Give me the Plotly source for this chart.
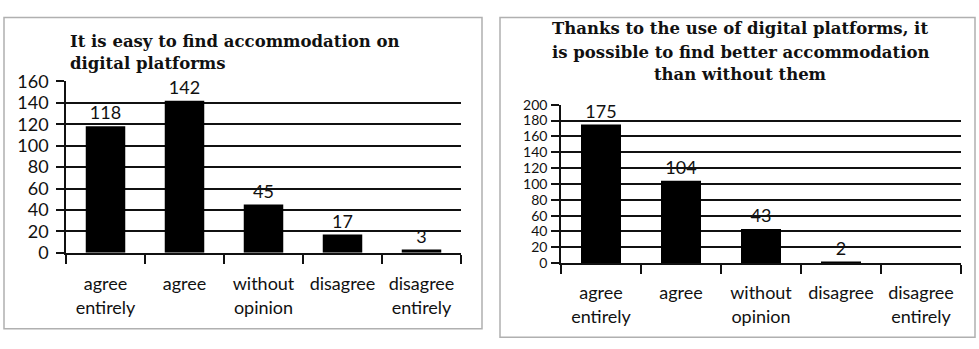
import plotly.graph_objects as go

# Survey answers shared by both charts
categories = ["agree<br>entirely", "agree", "without<br>opinion", "disagree", "disagree<br>entirely"]
easy_to_find = [118, 142, 45, 17, 3]
better_than_without = [175, 104, 43, 2, 0]
title_left_lines = ["It is easy to find accommodation on", "digital platforms"]
title_right_lines = ["Thanks to the use of digital platforms, it",
                     "is possible to find better accommodation",
                     "than without them"]

W, H = 979, 349
SANS = "Lato"
SERIF = "DejaVu Serif"
INK = "#111"


def px(x):
    return x / W


def py(y):
    return 1 - y / H


fig = go.Figure()

fig.add_trace(go.Bar(
    x=categories, y=easy_to_find, xaxis="x", yaxis="y",
    marker=dict(color="black", line=dict(width=0)), width=0.5,
    text=[str(v) for v in easy_to_find], textposition="outside",
    textfont=dict(family=SANS, size=18, color=INK), cliponaxis=False,
))
fig.add_trace(go.Bar(
    x=categories, y=better_than_without, xaxis="x2", yaxis="y2",
    marker=dict(color="black", line=dict(width=0)), width=0.5,
    text=[str(v) if v > 0 else "" for v in better_than_without], textposition="outside",
    textfont=dict(family=SANS, size=18, color=INK), cliponaxis=False,
))

xaxis_style = dict(
    type="category", tickson="boundaries", ticks="outside", ticklen=9, tickwidth=1.5,
    tickcolor=INK, showline=True, linecolor=INK, linewidth=1.5, showgrid=False,
    tickfont=dict(family=SANS, size=18, color=INK), fixedrange=True,
)
yaxis_style = dict(
    ticks="outside", ticklen=8, tickwidth=1.5, tickcolor=INK, showline=True,
    linecolor=INK, linewidth=1.5, showgrid=True, gridcolor=INK, gridwidth=1.5,
    zeroline=False, fixedrange=True,
)

fig.update_layout(
    width=W, height=H, margin=dict(l=0, r=0, t=0, b=0),
    paper_bgcolor="white", plot_bgcolor="white", showlegend=False,
    xaxis=dict(domain=[px(66), px(461)], anchor="y", ticklabelstandoff=14, **xaxis_style),
    yaxis=dict(domain=[py(257), py(74)], anchor="x", range=[0, 160], dtick=20,
               tickfont=dict(family=SANS, size=18, color=INK), ticklabelstandoff=4,
               **yaxis_style),
    xaxis2=dict(domain=[px(561), px(961)], anchor="y2", ticklabelstandoff=13, **xaxis_style),
    yaxis2=dict(domain=[py(268), py(99)], anchor="x2", range=[0, 200], dtick=20,
                tickfont=dict(family=SANS, size=14, color=INK), ticklabelstandoff=1,
                **yaxis_style),
)

# Panel frames
for x0, y0, x1, y1 in [(4, 6, 482, 338), (500, 6, 975, 347)]:
    fig.add_shape(type="rect", xref="paper", yref="paper",
                  x0=px(x0), x1=px(x1), y0=py(y1), y1=py(y0),
                  line=dict(color="#b0b0b0", width=1.5), fillcolor="rgba(0,0,0,0)", layer="below")

# Chart titles, one annotation per line for tight line spacing
title_font = dict(family=SERIF, size=16.5, color=INK, weight="bold")
for line, yc in zip(title_left_lines, [32, 55]):
    fig.add_annotation(text=line, xref="paper", yref="paper", x=px(68), y=py(yc),
                       xanchor="left", yanchor="middle", showarrow=False, font=title_font)
for line, yc in zip(title_right_lines, [18, 43, 67]):
    fig.add_annotation(text=line, xref="paper", yref="paper", x=px(740), y=py(yc),
                       xanchor="center", yanchor="middle", showarrow=False, font=title_font)

fig.write_html("out.html")
